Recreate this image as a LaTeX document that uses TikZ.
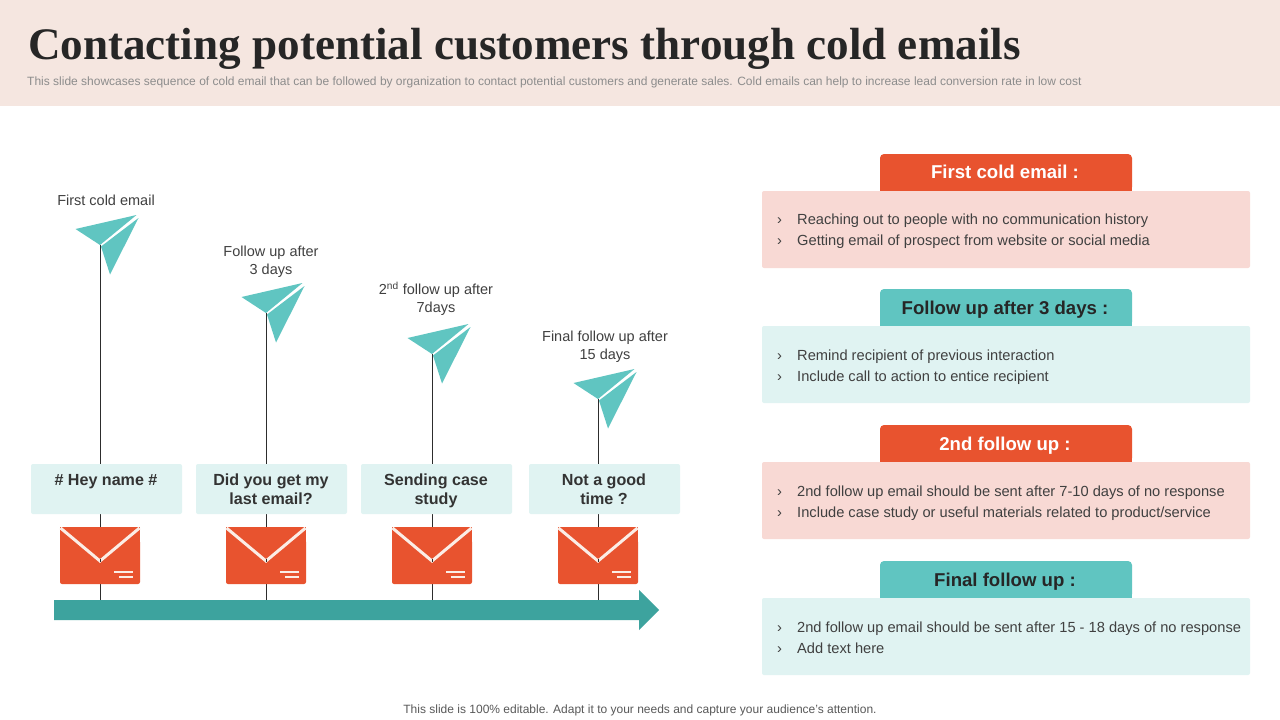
\documentclass[tikz,border=0pt]{standalone}
\usepackage{fontspec}
\setmainfont{Liberation Sans}
\newfontfamily\titlefont{Liberation Serif}
\usetikzlibrary{positioning}
\definecolor{bandfill}{HTML}{F5E6E0}
\definecolor{redfill}{HTML}{E8532F}
\definecolor{pinkfill}{HTML}{F8D9D4}
\definecolor{tealfill}{HTML}{60C5C1}
\definecolor{palefill}{HTML}{E0F3F2}
\definecolor{shaftfill}{HTML}{3DA39E}
\definecolor{inktext}{HTML}{404040}
\definecolor{creamline}{HTML}{FBEDE6}
\tikzset{
  bodytext/.style={font=\fontsize{14.65}{17}\selectfont,text=inktext,anchor=base west,inner sep=0pt},
  planetext/.style={font=\fontsize{14.5}{18}\selectfont,text=inktext,align=center,inner sep=0pt},
  boxnote/.style={fill=palefill,rounded corners=2pt,minimum width=151pt,minimum height=50pt,inner sep=0pt},
  boxtext/.style={font=\bfseries\fontsize{16.1}{19}\selectfont,text=black!80,align=center,inner sep=0pt,anchor=base},
  headtext/.style={font=\bfseries\fontsize{18.6}{22}\selectfont,inner sep=0pt,anchor=base},
  panel/.style={rounded corners=2pt,minimum width=488pt,minimum height=77pt,inner sep=0pt},
  stem/.style={draw=inktext!70!black,line width=0.8pt},
}
\begin{document}
\begin{tikzpicture}[x=1pt,y=-1pt]
  \useasboundingbox (0,0) rectangle (1280,720);
  \fill[white] (0,0) rectangle (1280,720);
  \fill[bandfill] (0,0) rectangle (1280,106);
  \node (title) [anchor=base west,inner sep=0pt,text=black!85,font=\titlefont\bfseries\fontsize{45.1}{48}\selectfont] at (28,59) {Contacting potential customers through cold emails};
  \node (subtitle) [anchor=base west,inner sep=0pt,text=black!45,font=\fontsize{12}{14}\selectfont] at (27,85) {This slide showcases sequence of cold email that can be followed by organization to contact potential customers and generate sales. Cold emails can help to increase lead conversion rate in low cost};
  \node (footer) [anchor=base,inner sep=0pt,text=black!65,font=\fontsize{12}{14}\selectfont] at (640,713) {This slide is 100\% editable. Adapt it to your needs and capture your audience's attention.};

  % timeline
  \fill[shaftfill] (54,600) -- (639,600) -- (639,590) -- (659,610) -- (639,630) -- (639,620) -- (54,620) -- cycle;
  \foreach \i/\sx/\fy/\bx/\lx/\ly/\lab/\one/\two in {
    1/100/245/106.5/106/200/{First cold email}/{\# Hey name \#}/{},
    2/266/313/271.5/271/261.5/{Follow up after\\3 days}/{Did you get my}/{last email?},
    3/432/354/436.5/436/298.5/{2\textsuperscript{nd} follow up after\\7days}/{Sending case}/{study},
    4/598/399/604.5/605/346.5/{Final follow up after\\15 days}/{Not a good}/{time ?}} {
    \coordinate (fold\i) at (\sx,\fy);
    \coordinate (foot\i) at (\sx,600);
    \draw[stem] (fold\i) -- (foot\i);
    % paper plane
    \fill[tealfill] (fold\i) ++(-24.5,-16) -- ++(61,-14) -- (fold\i) -- cycle;
    \fill[tealfill] (fold\i) ++(1,1.5) -- ++(37.5,-28.5) -- ++(-28.5,56.5) -- cycle;
    \node (label\i) [planetext] at (\lx,\ly) {\lab};
    % message box
    \node (note\i) [boxnote] at (\bx,489) {};
    \node (line\i) [boxtext] at (\bx-0.5,485) {\one};
    \node (nextline\i) [boxtext] at (\bx-0.5,504) {\two};
    % envelope
    \fill[redfill,rounded corners=2pt] (\sx-40,540) -- (\sx-40,584) -- (\sx+40,584) -- (\sx+40,540) -- cycle;
    \fill[redfill] (\sx-40,527) rectangle (\sx+40,550);
    \draw[creamline,line width=3pt] (\sx-39.5,528) -- (\sx,561) -- (\sx+39.5,528);
    \draw[stem] (\sx,558.5) -- (\sx,561.5);
    \draw[creamline,line width=2pt] (\sx+14,572) -- (\sx+33,572) (\sx+19,576.5) -- (\sx+33,576.5);
  }

  % right column
  \foreach \j/\ty/\by/\headfill/\bodyfill/\headcol/\head/\first/\second in {
    1/154/224/redfill/pinkfill/white/{First cold email :}/{Reaching out to people with no communication history}/{Getting email of prospect from website or social media},
    2/289/360/tealfill/palefill/black!85/{Follow up after 3 days :}/{Remind recipient of previous interaction}/{Include call to action to entice recipient},
    3/425/496/redfill/pinkfill/white/{2nd follow up :}/{2nd follow up email should be sent after 7-10 days of no response}/{Include case study or useful materials related to product/service},
    4/561/632/tealfill/palefill/black!85/{Final follow up :}/{2nd follow up email should be sent after 15 - 18 days of no response}/{Add text here}} {
    \fill[\headfill,rounded corners=4pt] (880,\ty+37) -- (880,\ty) -- (1132,\ty) -- (1132,\ty+37) -- cycle;
    \fill[\headfill] (880,\ty+20) rectangle (1132,\ty+37);
    \node (head\j) [headtext,text=\headcol] at (1005,\by-45.5) {\head};
    \node (panel\j) [panel,fill=\bodyfill] at (1006,\ty+75.5) {};
    \node (mark\j) [bodytext] at (777,\by) {›};
    \node (item\j) [bodytext] at (797,\by) {\first};
    \node (nextmark\j) [bodytext] at (777,\by+21) {›};
    \node (nextitem\j) [bodytext] at (797,\by+21) {\second};
  }
\end{tikzpicture}
\end{document}
